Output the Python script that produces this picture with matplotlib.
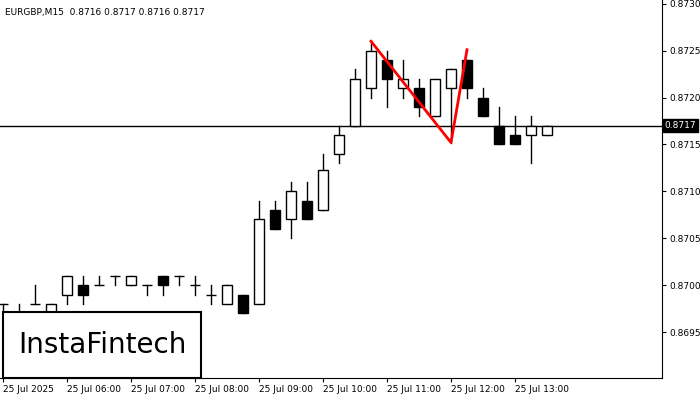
import matplotlib
matplotlib.use("Agg")
import matplotlib.pyplot as plt
from matplotlib.patches import Rectangle

# OHLC for EURGBP M15
opens  = [0.8698, 0.8697, 0.8698, 0.8697, 0.8699, 0.8700, 0.8700, 0.8701, 0.8700, 0.8700,
          0.8701, 0.8701, 0.8700, 0.8699, 0.8698, 0.8699, 0.8698, 0.8708, 0.87071, 0.8709,
          0.8708, 0.8714, 0.8717, 0.8721, 0.8724, 0.8721, 0.8721, 0.8718, 0.8721, 0.8724,
          0.8720, 0.8717, 0.8716, 0.8716, 0.8716]
highs  = [0.8698, 0.8698, 0.8700, 0.8698, 0.8701, 0.8701, 0.8701, 0.8701, 0.8701, 0.8700,
          0.8701, 0.8701, 0.8701, 0.8700, 0.8700, 0.8699, 0.8709, 0.8709, 0.8711, 0.8711,
          0.8714, 0.8717, 0.8723, 0.8726, 0.8725, 0.8724, 0.8722, 0.8722, 0.8723, 0.8724,
          0.8721, 0.8719, 0.8718, 0.8718, 0.8717]
lows   = [0.8697, 0.8697, 0.8698, 0.8697, 0.8698, 0.8698, 0.8700, 0.8700, 0.8700, 0.8699,
          0.8699, 0.8700, 0.8699, 0.8698, 0.8698, 0.8697, 0.8698, 0.8706, 0.8705, 0.87071,
          0.8708, 0.8713, 0.8717, 0.8720, 0.8719, 0.8720, 0.8718, 0.8718, 0.87152, 0.8720,
          0.8718, 0.87151, 0.87151, 0.8713, 0.8716]
closes = [0.8698, 0.8697, 0.8698, 0.8698, 0.8701, 0.8699, 0.8700, 0.8701, 0.8701, 0.8700,
          0.8700, 0.8701, 0.8700, 0.8699, 0.8700, 0.8697, 0.87071, 0.8706, 0.8710, 0.87071,
          0.87123, 0.8716, 0.8722, 0.8725, 0.8722, 0.8722, 0.8719, 0.8722, 0.8723, 0.8721,
          0.8718, 0.87151, 0.87151, 0.8717, 0.8717]

time_idx = [0, 4, 8, 12, 16, 20, 24, 28, 32]
time_labels = ["25 Jul 2025", "25 Jul 06:00", "25 Jul 07:00", "25 Jul 08:00", "25 Jul 09:00",
               "25 Jul 10:00", "25 Jul 11:00", "25 Jul 12:00", "25 Jul 13:00"]
price_ticks = [0.8695, 0.8700, 0.8705, 0.8710, 0.8715, 0.8720, 0.8725, 0.8730]

# double top pattern line
pattern_x = [23, 28, 29]
pattern_y = [0.8726, 0.87152, 0.87251]
last_price = 0.8717

fig = plt.figure(figsize=(7, 4), dpi=100)
ax = fig.add_axes([0, 22 / 400, 662 / 700, 378 / 400])

w = 0.62
for i, (o, h, l, c) in enumerate(zip(opens, highs, lows, closes)):
    ax.plot([i, i], [l, h], color="black", lw=1, zorder=2)
    bottom, top = min(o, c), max(o, c)
    face = "white" if c >= o else "black"
    ax.add_patch(Rectangle((i - w / 2, bottom), w, max(top - bottom, 1e-7),
                           facecolor=face, edgecolor="black", lw=1, zorder=3))

ax.axhline(last_price, color="black", lw=1, zorder=1)
ax.plot(pattern_x, pattern_y, color="red", lw=2, zorder=4)

ax.set_xlim(-3 / 16, 659 / 16)
ax.set_ylim(0.86901, 0.87304)
ax.yaxis.tick_right()
ax.set_yticks(price_ticks)
ax.set_yticklabels([f"{p:.4f}" for p in price_ticks], fontsize=6.5)
ax.set_xticks(time_idx)
ax.set_xticklabels(time_labels, fontsize=6.5, ha="left")
ax.tick_params(length=3, pad=2)
for s in ["top", "left"]:
    ax.spines[s].set_visible(False)

ax.text(5 / 662, 1 - 12 / 378, "EURGBP,M15  0.8716 0.8717 0.8716 0.8717",
        transform=ax.transAxes, fontsize=6.5, va="center")
ax.text(1.004, last_price, "0.8717", transform=ax.get_yaxis_transform(), fontsize=6.5,
        color="white", va="center", ha="left",
        bbox=dict(boxstyle="square,pad=0.2", fc="black", ec="black"))

fig.patches.append(Rectangle((3 / 700, 22 / 400), 198 / 700, 66 / 400, transform=fig.transFigure,
                             facecolor="white", edgecolor="black", lw=1.5, zorder=5))
fig.text(102 / 700, 55 / 400, "InstaFintech", fontsize=20, fontweight="medium",
         ha="center", va="center", zorder=6)

fig.savefig("out.png", dpi=100)
